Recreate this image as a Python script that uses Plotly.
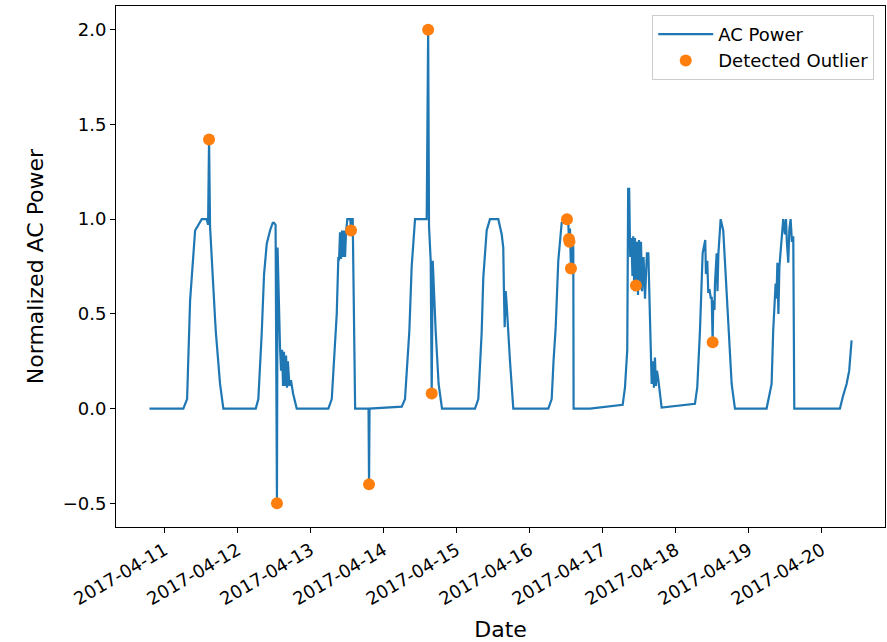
import plotly.graph_objects as go

# --- AC power line (vertices) ---
times = [
    "2017-04-10 19:00",
    # 04-11
    "2017-04-11 06:08", "2017-04-11 07:22", "2017-04-11 08:21", "2017-04-11 10:00", "2017-04-11 10:45",
    "2017-04-11 12:11", "2017-04-11 13:50", "2017-04-11 14:16", "2017-04-11 14:35", "2017-04-11 14:55",
    "2017-04-11 16:34", "2017-04-11 16:50", "2017-04-11 18:12", "2017-04-11 19:17",
    # 04-12
    "2017-04-12 05:56", "2017-04-12 06:47", "2017-04-12 07:54", "2017-04-12 08:40", "2017-04-12 09:33",
    "2017-04-12 10:38", "2017-04-12 11:31", "2017-04-12 11:57", "2017-04-12 12:27", "2017-04-12 12:54",
    "2017-04-12 13:06", "2017-04-12 13:22", "2017-04-12 13:55", "2017-04-12 14:15", "2017-04-12 14:35",
    "2017-04-12 14:54", "2017-04-12 15:12", "2017-04-12 15:34", "2017-04-12 15:54", "2017-04-12 16:12",
    "2017-04-12 16:30", "2017-04-12 17:00", "2017-04-12 17:30", "2017-04-12 18:12", "2017-04-12 19:24",
    # 04-13
    "2017-04-13 05:47", "2017-04-13 06:55", "2017-04-13 08:33", "2017-04-13 09:05", "2017-04-13 09:18",
    "2017-04-13 09:38", "2017-04-13 09:58", "2017-04-13 10:18", "2017-04-13 10:37", "2017-04-13 10:57",
    "2017-04-13 11:17", "2017-04-13 11:36", "2017-04-13 12:02", "2017-04-13 13:00", "2017-04-13 13:15",
    "2017-04-13 13:30", "2017-04-13 13:48", "2017-04-13 14:36", "2017-04-13 19:00", "2017-04-13 19:10",
    "2017-04-13 19:20",
    # 04-14
    "2017-04-14 05:55", "2017-04-14 06:59", "2017-04-14 08:25", "2017-04-14 09:11", "2017-04-14 10:17",
    "2017-04-14 14:07", "2017-04-14 14:36", "2017-04-14 14:53", "2017-04-14 15:26", "2017-04-14 15:46",
    "2017-04-14 16:06", "2017-04-14 17:06", "2017-04-14 18:02", "2017-04-14 19:09",
    # 04-15
    "2017-04-15 06:00", "2017-04-15 07:05", "2017-04-15 08:11", "2017-04-15 08:43", "2017-04-15 09:50",
    "2017-04-15 10:55", "2017-04-15 13:39", "2017-04-15 14:46", "2017-04-15 15:17", "2017-04-15 15:31",
    "2017-04-15 15:45", "2017-04-15 16:05", "2017-04-15 16:24", "2017-04-15 17:30", "2017-04-15 18:35",
    # 04-16
    "2017-04-16 06:05", "2017-04-16 07:12", "2017-04-16 07:48", "2017-04-16 08:31", "2017-04-16 09:22",
    "2017-04-16 10:29", "2017-04-16 12:13", "2017-04-16 12:39", "2017-04-16 12:53", "2017-04-16 13:03",
    "2017-04-16 13:12", "2017-04-16 13:32", "2017-04-16 13:52", "2017-04-16 14:18", "2017-04-16 14:24",
    "2017-04-16 19:47",
    # 04-17
    "2017-04-17 06:32", "2017-04-17 07:17", "2017-04-17 08:02", "2017-04-17 08:20", "2017-04-17 08:40",
    "2017-04-17 09:00", "2017-04-17 09:24", "2017-04-17 09:45", "2017-04-17 10:00", "2017-04-17 10:20",
    "2017-04-17 10:34", "2017-04-17 10:54", "2017-04-17 11:14", "2017-04-17 11:34", "2017-04-17 11:54",
    "2017-04-17 12:12", "2017-04-17 12:33", "2017-04-17 12:54", "2017-04-17 13:24", "2017-04-17 13:52",
    "2017-04-17 14:30", "2017-04-17 14:58", "2017-04-17 15:30", "2017-04-17 16:04", "2017-04-17 16:30",
    "2017-04-17 16:48", "2017-04-17 17:08", "2017-04-17 17:28", "2017-04-17 17:48", "2017-04-17 18:12",
    "2017-04-17 19:20",
    # 04-18
    "2017-04-18 06:17", "2017-04-18 07:02", "2017-04-18 07:56", "2017-04-18 08:49", "2017-04-18 09:40",
    "2017-04-18 09:54", "2017-04-18 10:20", "2017-04-18 10:40", "2017-04-18 11:03", "2017-04-18 11:32",
    "2017-04-18 11:48", "2017-04-18 12:06", "2017-04-18 12:18", "2017-04-18 12:42", "2017-04-18 12:52",
    "2017-04-18 13:25", "2017-04-18 13:41", "2017-04-18 14:00", "2017-04-18 14:44", "2017-04-18 15:35",
    "2017-04-18 17:14", "2017-04-18 18:21", "2017-04-18 19:26",
    # 04-19
    "2017-04-19 05:50", "2017-04-19 07:29", "2017-04-19 08:00", "2017-04-19 08:48", "2017-04-19 09:04",
    "2017-04-19 09:23", "2017-04-19 09:43", "2017-04-19 10:03", "2017-04-19 10:46", "2017-04-19 11:18",
    "2017-04-19 11:51", "2017-04-19 12:12", "2017-04-19 12:30", "2017-04-19 12:57", "2017-04-19 13:20",
    "2017-04-19 13:44", "2017-04-19 14:10", "2017-04-19 14:36", "2017-04-19 14:56",
    # 04-20
    "2017-04-20 05:56", "2017-04-20 07:01", "2017-04-20 08:08", "2017-04-20 08:59", "2017-04-20 09:46",
]
ac_power = [
    0.0,
    # 04-11
    0.0, 0.05, 0.57, 0.94, 0.96,
    1.00, 1.00, 0.97, 1.42, 0.96,
    0.47, 0.40, 0.13, 0.0,
    # 04-12
    0.0, 0.05, 0.40, 0.71, 0.87,
    0.94, 0.98, 0.98, 0.97, -0.50,
    0.85, 0.61, 0.32, 0.20, 0.31,
    0.12, 0.30, 0.12, 0.28, 0.11,
    0.25, 0.12, 0.15, 0.08, 0.0,
    # 04-13
    0.0, 0.05, 0.50, 0.80, 0.78,
    0.93, 0.79, 0.94, 0.80, 0.94,
    0.80, 0.93, 1.00, 1.00, 0.94,
    1.00, 1.00, 0.0, 0.0, -0.40,
    0.0,
    # 04-14
    0.01, 0.05, 0.41, 0.75, 1.00,
    1.00, 2.00, 0.96, 0.78, 0.08,
    0.78, 0.40, 0.13, 0.0,
    # 04-15
    0.0, 0.05, 0.40, 0.69, 0.94,
    1.00, 1.00, 0.92, 0.85, 0.61,
    0.43, 0.62, 0.55, 0.25, 0.0,
    # 04-16
    0.0, 0.05, 0.25, 0.43, 0.78,
    0.98, 1.00, 0.98, 0.895, 0.88,
    0.95, 0.74, 0.90, 0.85, 0.0,
    0.0,
    # 04-17
    0.02, 0.11, 0.31, 1.16, 1.16,
    0.80, 0.90, 0.70, 0.91, 0.62,
    0.90, 0.65, 0.88, 0.60, 0.89,
    0.63, 0.88, 0.62, 0.80, 0.58,
    0.82, 0.82, 0.48, 0.13, 0.25,
    0.11, 0.27, 0.12, 0.20, 0.16,
    0.005,
    # 04-18
    0.025, 0.11, 0.41, 0.82, 0.89,
    0.71, 0.78, 0.61, 0.63, 0.58,
    0.59, 0.35, 0.57, 0.52, 0.66,
    0.82, 0.62, 0.82, 1.00, 0.94,
    0.48, 0.13, 0.0,
    # 04-19
    0.0, 0.13, 0.41, 0.66, 0.58,
    0.77, 0.50, 0.75, 0.90, 1.00,
    0.92, 1.00, 0.88, 0.77, 0.95,
    1.00, 0.88, 0.91, 0.0,
    # 04-20
    0.0, 0.07, 0.13, 0.20, 0.36,
]

# --- detected outliers ---
outlier_times = [
    "2017-04-11 14:35", "2017-04-12 12:54", "2017-04-13 13:15", "2017-04-13 19:10",
    "2017-04-14 14:36", "2017-04-14 15:46", "2017-04-16 12:13", "2017-04-16 12:53",
    "2017-04-16 13:03", "2017-04-16 13:32", "2017-04-17 10:54", "2017-04-18 12:06",
]
outlier_values = [1.42, -0.50, 0.94, -0.40, 2.00, 0.08, 1.00, 0.895, 0.88, 0.74, 0.65, 0.35]

# --- ticks ---
x_tick_dates = ["2017-04-%02d" % d for d in range(11, 21)]
y_tick_vals = [-0.5, 0.0, 0.5, 1.0, 1.5, 2.0]
y_tick_text = ["\u22120.5", "0.0", "0.5", "1.0", "1.5", "2.0"]

FONT = "DejaVu Sans"
FS = 18

fig = go.Figure()
fig.add_trace(go.Scatter(
    x=times, y=ac_power, mode="lines", name="AC Power",
    line=dict(color="#1f77b4", width=2.2),
))
fig.add_trace(go.Scatter(
    x=outlier_times, y=outlier_values, mode="markers", name="Detected Outlier",
    marker=dict(color="#ff7f0e", size=12, line=dict(width=0)),
))

fig.update_layout(
    width=887, height=642,
    margin=dict(l=116, r=2, t=6, b=115, autoexpand=False),
    paper_bgcolor="white", plot_bgcolor="white",
    font=dict(family=FONT, size=FS, color="black"),
    showlegend=True,
    legend=dict(
        x=0.986, y=0.983, xanchor="right", yanchor="top",
        bgcolor="rgba(255,255,255,0.8)", bordercolor="#cccccc", borderwidth=1,
        font=dict(family=FONT, size=FS), tracegroupgap=0, itemwidth=55,
    ),
)
fig.update_xaxes(
    range=["2017-04-10 08:00", "2017-04-20 20:45"],
    tickmode="array", tickvals=x_tick_dates, ticktext=x_tick_dates,
    tickangle=-30, ticks="outside", ticklen=5, tickwidth=1, tickcolor="black",
    showline=True, linecolor="black", linewidth=1, mirror=True,
    showgrid=False, zeroline=False, automargin=False,
    title=dict(text="Date", standoff=14),
)
fig.update_yaxes(
    range=[-0.625, 2.125],
    tickmode="array", tickvals=y_tick_vals, ticktext=y_tick_text,
    ticks="outside", ticklen=5, tickwidth=1, tickcolor="black",
    showline=True, linecolor="black", linewidth=1, mirror=True,
    showgrid=False, zeroline=False, automargin=False,
    title=dict(text="Normalized AC Power", standoff=12),
)

fig.write_html("out.html", config={"displayModeBar": False},
               post_script="document.body.style.margin='0px';")
